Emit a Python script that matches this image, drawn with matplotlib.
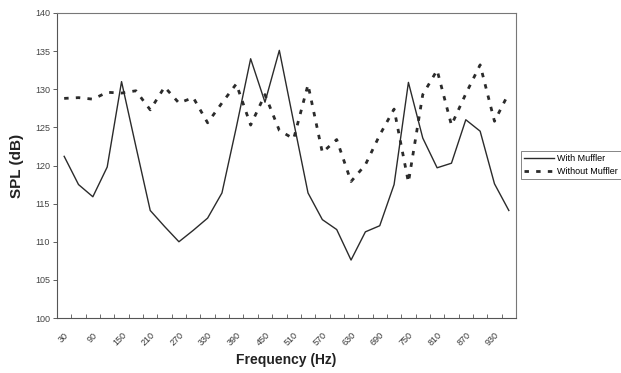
import matplotlib
matplotlib.use("Agg")
import matplotlib.pyplot as plt
import numpy as np

plt.rcParams["font.family"] = ["Liberation Sans", "DejaVu Sans"]

FREQ = list(range(30, 990, 30))  # 30 .. 960 Hz, 32 categories
WITH_MUFFLER = [121.2, 117.5, 115.9, 119.8, 131.0, 122.5, 114.1, 112.0,
                110.0, 111.5, 113.1, 116.4, 125.0, 134.0, 128.3, 135.1,
                125.7, 116.4, 112.9, 111.6, 107.6, 111.3, 112.1, 117.5,
                130.9, 123.6, 119.7, 120.3, 126.0, 124.5, 117.6, 114.1]
WITHOUT_MUFFLER = [128.8, 128.9, 128.7, 129.6, 129.5, 129.8, 127.3, 130.3,
                   128.2, 128.9, 125.6, 128.2, 130.7, 125.3, 129.3, 124.6,
                   123.5, 130.6, 121.7, 123.4, 117.9, 120.1, 124.0, 127.4,
                   117.8, 129.3, 132.5, 125.3, 129.4, 133.2, 125.8, 129.5]
SHOWN_LABELS = [str(f) for f in FREQ[::2][:16]]

fig = plt.figure(figsize=(6.21, 3.73), dpi=100)
ax = fig.add_axes([57 / 621, 1 - 318 / 373, (516 - 57) / 621, (318 - 13) / 373])

x = np.arange(len(FREQ))
ax.plot(x, WITH_MUFFLER, color="#2b2b2b", lw=1.0, label="With Muffler")
ax.plot(x, WITHOUT_MUFFLER, color="#2b2b2b", lw=2.0, dashes=(1.6, 2.6),
        label="Without Muffler")

ax.set_xlim(-0.5, len(FREQ) - 0.5)
ax.set_ylim(100, 140)
ax.set_yticks(range(100, 141, 5))
ax.tick_params(axis="y", labelsize=6.5, length=3, width=0.6,
               colors="#444444", pad=2)

ax.set_xticks(x[::2][:16])
ax.set_xticklabels(SHOWN_LABELS, rotation=45, ha="right",
                   rotation_mode="anchor", fontsize=6.5, color="#333333")
ax.tick_params(axis="x", which="major", length=0, pad=9)
ax.set_xticks(np.arange(len(FREQ) + 1) - 0.5, minor=True)
ax.tick_params(axis="x", which="minor", length=3, width=0.6,
               color="#555555", direction="in")

for s in ax.spines.values():
    s.set_color("#777777")
    s.set_linewidth(0.8)
ax.spines["left"].set_color("#555555")
ax.spines["bottom"].set_color("#555555")

ax.set_ylabel("SPL (dB)", fontsize=11, fontweight="bold", color="#222222",
              labelpad=8)
ax.set_xlabel("Frequency (Hz)", fontsize=10, fontweight="bold",
              color="#222222", labelpad=4)

leg = ax.legend(loc="upper left", bbox_to_anchor=(521 / 621, 1 - 151 / 373),
                bbox_transform=fig.transFigure, fontsize=6.5, frameon=True,
                fancybox=False, borderpad=0.35, handlelength=3.3,
                labelspacing=0.4, handletextpad=0.35, borderaxespad=0)
leg.get_frame().set_edgecolor("#666666")
leg.get_frame().set_linewidth(0.7)

fig.savefig("out.png", dpi=100)
